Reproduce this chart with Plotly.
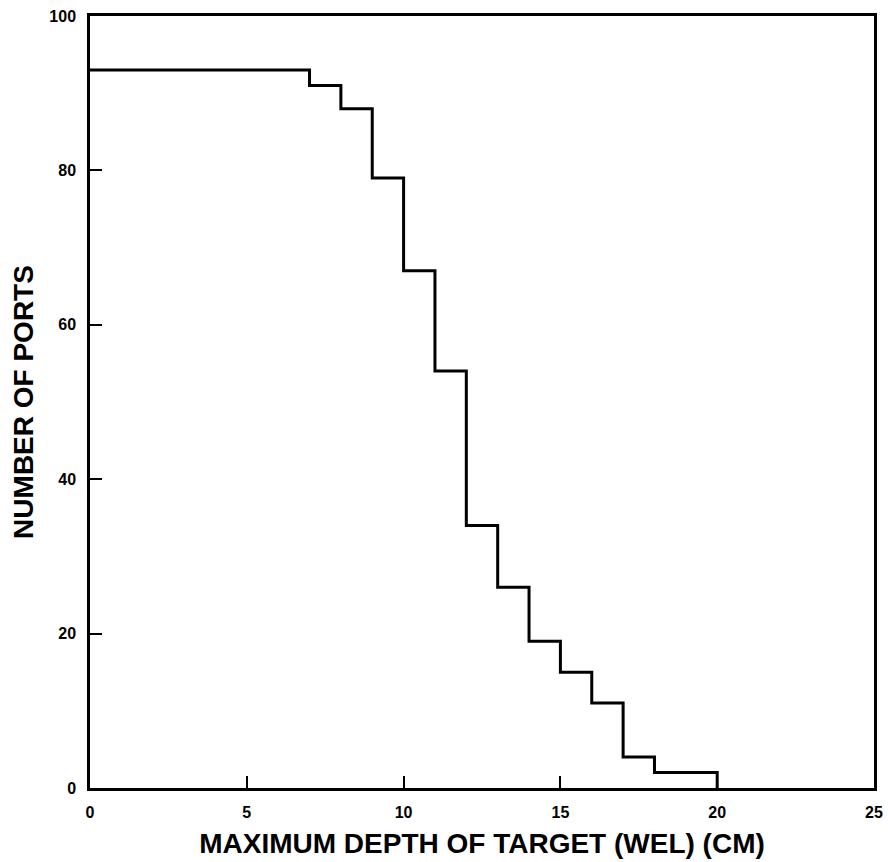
import plotly.graph_objects as go

# Cumulative count of ports whose maximum target depth is at least x (cm)
depth_cm = [0, 7, 8, 9, 10, 11, 12, 13, 14, 15, 16, 17, 18, 20]
num_ports = [93, 91, 88, 79, 67, 54, 34, 26, 19, 15, 11, 4, 2, 0]

x_ticks = [0, 5, 10, 15, 20, 25]
y_ticks = [0, 20, 40, 60, 80, 100]

FONT = "Liberation Sans, Arial, sans-serif"

fig = go.Figure()
fig.add_trace(go.Scatter(
    x=depth_cm, y=num_ports,
    mode="lines",
    line=dict(shape="hv", color="black", width=3),
    showlegend=False,
    hoverinfo="skip",
))

axis_common = dict(
    showgrid=False, zeroline=False,
    showline=True, linecolor="black", linewidth=2.5, mirror=True,
    ticks="inside", ticklen=12, tickwidth=2, tickcolor="black",
    tickfont=dict(family=FONT, size=16, color="black", weight="bold"),
    ticklabelstandoff=8,
    automargin=False,
)

fig.update_xaxes(
    range=[0, 25], tickvals=x_ticks, ticktext=[str(v) for v in x_ticks],
    title=dict(text="<b>MAXIMUM DEPTH OF TARGET (WEL) (CM)</b>",
               font=dict(family=FONT, size=28, color="black"), standoff=14),
    **axis_common,
)
fig.update_yaxes(
    range=[0, 100], tickvals=y_ticks, ticktext=[str(v) for v in y_ticks],
    title=dict(text="<b>NUMBER OF PORTS</b>",
               font=dict(family=FONT, size=28, color="black"), standoff=8),
    **axis_common,
)

fig.update_layout(
    width=888, height=862,
    margin=dict(l=90, r=14, t=16, b=74),
    paper_bgcolor="white", plot_bgcolor="white",
)

fig.write_html("out.html")
